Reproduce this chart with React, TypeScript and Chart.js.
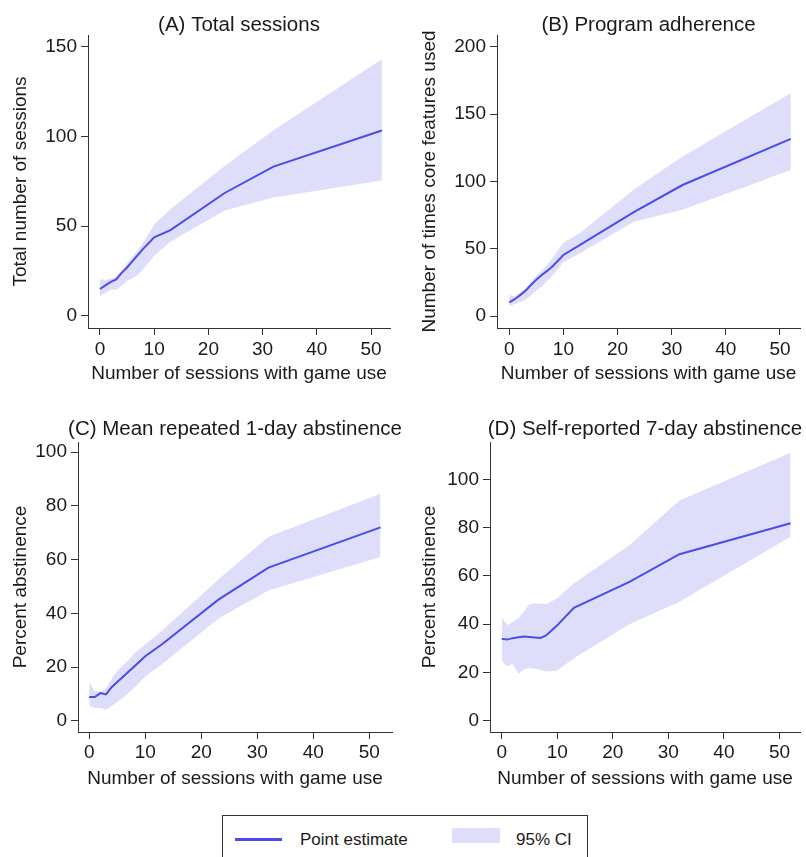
import React, { useEffect, useRef } from "react";
import { Chart, registerables } from "chart.js";

Chart.register(...registerables);

const FONT = "'Liberation Sans', Arial, Helvetica, sans-serif";
const TEXT = "#1a1a1a";
const AXIS = "#333333";
const LINE = "#4b4bec";
const BAND = "rgb(222,222,251)";

// Number of sessions with game use (x positions of the estimates)
const sessions = [0, 1, 2, 3, 4, 5, 6, 7, 8, 10, 13, 23, 32, 52];

// (A) Total sessions
const totalEst = [15, 17, 19, 20.4, 24, 27, 30.5, 34, 37.5, 43.8, 47.8, 68.5, 83.2, 103.3];
const totalHi = [20.5, 20, 20.8, 21.8, 25.5, 29.5, 33, 36.5, 41, 51, 59.5, 83.5, 103.5, 143];
const totalLo = [10.8, 13, 14.9, 14.5, 17, 19.5, 21, 23, 26, 33.5, 41.4, 58.7, 66, 75.5];

// (B) Program adherence
const adhEst = [10.1, 12.5, 15.5, 18.8, 23, 27, 30.5, 33.5, 37, 45.3, 52.7, 77.2, 97.3, 131.5];
const adhHi = [15.6, 14.5, 17.5, 20.5, 25.5, 30, 34, 38, 43, 54.5, 61.5, 94, 118.5, 165.5];
const adhLo = [7.4, 9, 10.5, 12, 15.5, 19, 22, 26, 30, 40, 46.5, 70, 79, 108.5];

// (C) Mean repeated 1-day abstinence
const oneDayEst = [8.8, 8.8, 10.3, 9.8, 12.5, 14.4, 16.3, 18.2, 20.1, 24, 28.5, 45, 57, 72];
const oneDayHi = [14.3, 11, 10.9, 12, 15.5, 18.5, 20.5, 22.5, 25, 28.5, 33.5, 52.5, 68.5, 84.5];
const oneDayLo = [5.6, 4.7, 4.7, 4.1, 5.5, 7, 8.4, 10.3, 12.2, 16.5, 21, 38, 48.5, 61];

// (D) Self-reported 7-day abstinence
const sevenDayEst = [33.9, 33.6, 34.2, 34.6, 34.9, 34.7, 34.5, 34.3, 35.3, 39.5, 46.8, 57.5, 69, 81.8];
const sevenDayHi = [42.8, 39.7, 41, 42.5, 45.2, 48.2, 48.6, 48.6, 48.3, 50.7, 57, 72.7, 91.3, 111];
const sevenDayLo = [24.9, 22.5, 23.5, 19.3, 21.3, 21.8, 21.5, 21.1, 20.4, 20.8, 25.9, 40, 49.3, 76.2];

// Tick labels
const xTicks = [0, 10, 20, 30, 40, 50];
const yTicksA = [0, 50, 100, 150];
const yTicksB = [0, 50, 100, 150, 200];
const yTicksC = [0, 20, 40, 60, 80, 100];
const yTicksD = [0, 20, 40, 60, 80, 100];

const xTitle = "Number of sessions with game use";

type Panel = {
  title: string;
  titleBaseline: number;
  yTitle: string;
  est: number[];
  hi: number[];
  lo: number[];
  yTicks: number[];
  xMin: number;
  xMax: number;
  yMin: number;
  yMax: number;
  box: { left: number; top: number; width: number; height: number };
  area: { left: number; top: number; right: number; bottom: number };
  yTitlePad: number;
  xTitlePad: number;
  xTickPad: number;
};

const panels: Panel[] = [
  {
    title: "(A) Total sessions",
    titleBaseline: 30.5,
    yTitle: "Total number of sessions",
    est: totalEst,
    hi: totalHi,
    lo: totalLo,
    yTicks: yTicksA,
    xMin: -2.21,
    xMax: 53.5,
    yMin: -6.7,
    yMax: 156.5,
    box: { left: 0, top: 0, width: 403, height: 395 },
    area: { left: 88, top: 35, right: 390, bottom: 328 },
    yTitlePad: 9.2,
    xTitlePad: 10.2,
    xTickPad: 3,
  },
  {
    title: "(B) Program adherence",
    titleBaseline: 30.5,
    yTitle: "Number of times core features used",
    est: adhEst,
    hi: adhHi,
    lo: adhLo,
    yTicks: yTicksB,
    xMin: -2.27,
    xMax: 53.7,
    yMin: -8.9,
    yMax: 208.7,
    box: { left: 403, top: 0, width: 403, height: 395 },
    area: { left: 94, top: 35, right: 397, bottom: 328 },
    yTitlePad: 15.0,
    xTitlePad: 10.2,
    xTickPad: 3,
  },
  {
    title: "(C) Mean repeated 1-day abstinence",
    titleBaseline: 40,
    yTitle: "Percent abstinence",
    est: oneDayEst,
    hi: oneDayHi,
    lo: oneDayLo,
    yTicks: yTicksC,
    xMin: -2.0,
    xMax: 54.05,
    yMin: -4.2,
    yMax: 103.8,
    box: { left: 0, top: 395, width: 410, height: 410 },
    area: { left: 78, top: 47, right: 392, bottom: 337 },
    yTitlePad: 9.2,
    xTitlePad: 15.2,
    xTickPad: 2,
  },
  {
    title: "(D) Self-reported 7-day abstinence",
    titleBaseline: 40,
    yTitle: "Percent abstinence",
    est: sevenDayEst,
    hi: sevenDayHi,
    lo: sevenDayLo,
    yTicks: yTicksD,
    xMin: -2.1,
    xMax: 53.7,
    yMin: -4.7,
    yMax: 115.5,
    box: { left: 403, top: 395, width: 403, height: 410 },
    area: { left: 87, top: 47, right: 397, bottom: 337 },
    yTitlePad: 15.0,
    xTitlePad: 15.2,
    xTickPad: 2,
  },
];

const panelTitlePlugin = {
  id: "panelTitle",
  afterDraw(chart: any, _args: any, opts: any) {
    const { ctx, chartArea } = chart;
    ctx.save();
    ctx.font = `20.5px ${FONT}`;
    ctx.fillStyle = TEXT;
    ctx.textAlign = "center";
    ctx.textBaseline = "alphabetic";
    ctx.fillText(opts.text, (chartArea.left + chartArea.right) / 2, opts.baseline);
    ctx.restore();
  },
};

function toPoints(values: number[]) {
  return sessions.map((x, i) => ({ x, y: values[i] }));
}

function PanelChart({ p }: { p: Panel }) {
  const ref = useRef<HTMLCanvasElement | null>(null);
  useEffect(() => {
    if (!ref.current) return;
    const tickFont = { size: 19, family: FONT };
    const chart = new Chart(ref.current, {
      type: "line",
      data: {
        datasets: [
          {
            label: "95% CI upper",
            data: toPoints(p.hi),
            borderWidth: 0,
            pointRadius: 0,
            backgroundColor: BAND,
            borderColor: "rgba(0,0,0,0)",
            fill: "+1",
            tension: 0,
            order: 2,
          },
          {
            label: "95% CI lower",
            data: toPoints(p.lo),
            borderWidth: 0,
            pointRadius: 0,
            borderColor: "rgba(0,0,0,0)",
            fill: false,
            tension: 0,
            order: 3,
          },
          {
            label: "Point estimate",
            data: toPoints(p.est),
            borderWidth: 2,
            borderColor: LINE,
            pointRadius: 0,
            fill: false,
            tension: 0,
            order: 0,
          },
        ],
      },
      options: {
        animation: false,
        responsive: false,
        maintainAspectRatio: false,
        events: [],
        layout: {
          padding: {
            left: 0,
            top: p.area.top,
            right: p.box.width - p.area.right,
            bottom: 0,
          },
        },
        plugins: {
          legend: { display: false },
          tooltip: { enabled: false },
          title: { display: false },
          panelTitle: { text: p.title, baseline: p.titleBaseline },
        } as any,
        scales: {
          x: {
            type: "linear",
            min: p.xMin,
            max: p.xMax,
            afterBuildTicks: (s: any) => {
              s.ticks = xTicks.map((v) => ({ value: v }));
            },
            afterFit: (s: any) => {
              s.height = p.box.height - p.area.bottom;
            },
            grid: {
              display: true,
              drawOnChartArea: false,
              drawTicks: true,
              tickLength: 7,
              tickColor: AXIS,
              tickWidth: 1,
            },
            border: { display: true, color: AXIS, width: 1 },
            ticks: {
              color: TEXT,
              font: tickFont,
              padding: p.xTickPad,
              maxRotation: 0,
              autoSkip: false,
            },
            title: {
              display: true,
              text: xTitle,
              color: TEXT,
              font: { size: 19, family: FONT },
              padding: { top: 0, bottom: p.xTitlePad },
            },
          },
          y: {
            type: "linear",
            min: p.yMin,
            max: p.yMax,
            afterBuildTicks: (s: any) => {
              s.ticks = p.yTicks.map((v) => ({ value: v }));
            },
            afterFit: (s: any) => {
              s.width = p.area.left;
            },
            grid: {
              display: true,
              drawOnChartArea: false,
              drawTicks: true,
              tickLength: 7,
              tickColor: AXIS,
              tickWidth: 1,
            },
            border: { display: true, color: AXIS, width: 1 },
            ticks: {
              color: TEXT,
              font: tickFont,
              padding: 4,
              autoSkip: false,
            },
            title: {
              display: true,
              text: p.yTitle,
              color: TEXT,
              font: { size: 19, family: FONT },
              padding: { top: p.yTitlePad, bottom: 0 },
            },
          },
        },
      },
      plugins: [panelTitlePlugin],
    });
    return () => chart.destroy();
  }, [p]);

  return (
    <canvas
      ref={ref}
      width={p.box.width}
      height={p.box.height}
      style={{
        position: "absolute",
        left: p.box.left,
        top: p.box.top,
        width: p.box.width,
        height: p.box.height,
      }}
    />
  );
}

export default function App() {
  const legendText: React.CSSProperties = {
    position: "absolute",
    fontFamily: FONT,
    fontSize: 17,
    lineHeight: "17px",
    color: TEXT,
    whiteSpace: "nowrap",
  };
  return (
    <div
      style={{
        position: "absolute",
        left: 0,
        top: 0,
        width: 806,
        height: 857,
        overflow: "hidden",
        background: "#ffffff",
      }}
    >
      {panels.map((p, i) => (
        <PanelChart key={i} p={p} />
      ))}
      <div
        style={{
          position: "absolute",
          left: 222,
          top: 815,
          width: 366,
          height: 70,
          border: "1.5px solid #333",
          boxSizing: "border-box",
        }}
      />
      <div
        style={{
          position: "absolute",
          left: 235,
          top: 838,
          width: 47,
          height: 2.5,
          background: LINE,
        }}
      />
      <div style={{ ...legendText, left: 300, top: 831.3 }}>Point estimate</div>
      <div
        style={{
          position: "absolute",
          left: 452,
          top: 828,
          width: 48,
          height: 15,
          background: BAND,
        }}
      />
      <div style={{ ...legendText, left: 516, top: 831.3 }}>95% CI</div>
    </div>
  );
}
